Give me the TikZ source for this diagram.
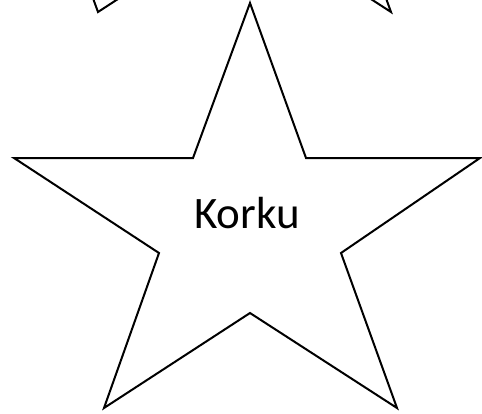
\documentclass[tikz,border=0pt]{standalone}
\usepackage{fontspec}
\setmainfont{Carlito}
\begin{document}
\begin{tikzpicture}[x=1pt,y=-1pt,
  starline/.style={draw=black,line width=2pt,line join=miter},
  label/.style={font=\fontsize{45}{54}\selectfont,inner sep=0pt,anchor=base}]
\useasboundingbox (0,0) rectangle (482,413);
% main star
\draw[starline] (250,3) -- (306,158) -- (480,158) -- (341,253) -- (397,408)
  -- (250,313) -- (104,408) -- (159,253) -- (14,158) -- (193,158) -- cycle;
% star above (only its lower tips show)
\begin{scope}
\clip (0,0) rectangle (482,413);
\draw[starline] (90,-10) -- (98,12) -- (244,-83) -- (391,12) -- (383,-10);
\end{scope}
\node[label] (korku) at (247,228) {Korku};
\end{tikzpicture}
\end{document}
